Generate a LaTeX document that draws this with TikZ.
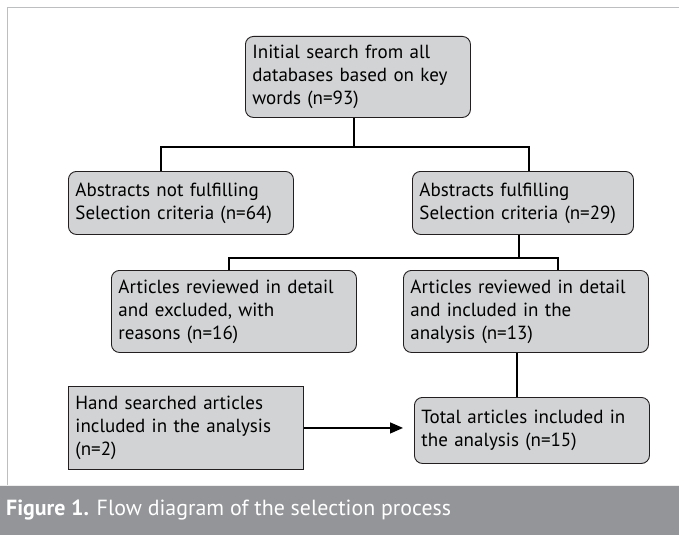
\documentclass[tikz,border=0pt]{standalone}
\usepackage{fontspec}
\setmainfont{PT Sans}
\usetikzlibrary{arrows.meta,calc}
\definecolor{boxfill}{HTML}{D1D3D4}
\definecolor{boxline}{HTML}{231F20}
\definecolor{band}{HTML}{939598}
\definecolor{frameline}{HTML}{BCBEC0}
\begin{document}
\begin{tikzpicture}[x=1pt,y=1pt,
  fbox/.style={draw=boxline, line width=0.9pt, fill=boxfill, rounded corners=8pt,
    anchor=north west, align=left, inner xsep=7pt, inner ysep=2pt,
    font=\fontsize{19}{23}\selectfont},
  sqbox/.style={fbox, rounded corners=0pt},
  conn/.style={draw=black, line width=1.4pt},
  arr/.style={conn, -{Triangle[length=13pt,width=11pt]}}]
\useasboundingbox (0,0) rectangle (679,-535);
\fill[white] (0,0) rectangle (679,-535);
% frame
\draw[frameline, line width=1pt] (7,-485) -- (7,-8) -- (679,-8);
% caption band
\fill[band] (0,-485) rectangle (679,-535);
\draw[white!85!band, line width=1pt] (0,-485.5) -- (679,-485.5);
\node[anchor=base west, inner sep=0pt, text=white, font=\fontsize{21.9}{24}\selectfont] (cap) at (6,-515)
  {\textbf{Figure 1.} Flow diagram of the selection process};
% boxes
\node[fbox, text width=211pt, minimum height=81pt] (top) at (245,-36)
  {Initial search from all\\databases based on key\\words (n=93)};
\node[fbox, text width=211pt, minimum height=63pt] (abl) at (68,-171)
  {Abstracts not fulfilling\\Selection criteria (n=64)};
\node[fbox, text width=207pt, minimum height=63pt] (abr) at (412,-171)
  {Abstracts fulfilling\\Selection criteria (n=29)};
\node[fbox, text width=231pt, minimum height=82pt] (mrl) at (111,-270)
  {Articles reviewed in detail\\and excluded, with\\reasons (n=16)};
\node[fbox, text width=231pt, minimum height=82pt] (mrr) at (403,-270)
  {Articles reviewed in detail\\and included in the\\analysis (n=13)};
\node[sqbox, text width=221pt, minimum height=83pt] (hand) at (68,-386)
  {Hand searched articles\\included in the analysis\\(n=2)};
\node[fbox, text width=221pt, minimum height=66pt] (total) at (414,-397)
  {Total articles included in\\the analysis (n=15)};
% junctions
\coordinate (b1) at (354,-147);
\coordinate (b1l) at (161,-147);
\coordinate (b1r) at (529,-147);
\coordinate (b2) at (519,-258);
\coordinate (b2l) at (229,-258);
\coordinate (b2r) at (558,-258);
\coordinate (b3) at (517,-380);
% connectors
\draw[conn] (top.south -| b1) -- (b1);
\draw[conn] (b1l |- abl.north) -- (b1l) -- (b1r) -- (b1r |- abr.north);
\draw[conn] (abr.south -| b2) -- (b2);
\draw[conn] (b2l |- mrl.north) -- (b2l) -- (b2r) -- (b2r |- mrr.north);
\draw[conn] (mrr.south -| b3) -- (total.north -| b3);
\draw[arr, shorten >=11pt] (hand.east) -- (hand.east -| total.west);
\end{tikzpicture}
\end{document}
